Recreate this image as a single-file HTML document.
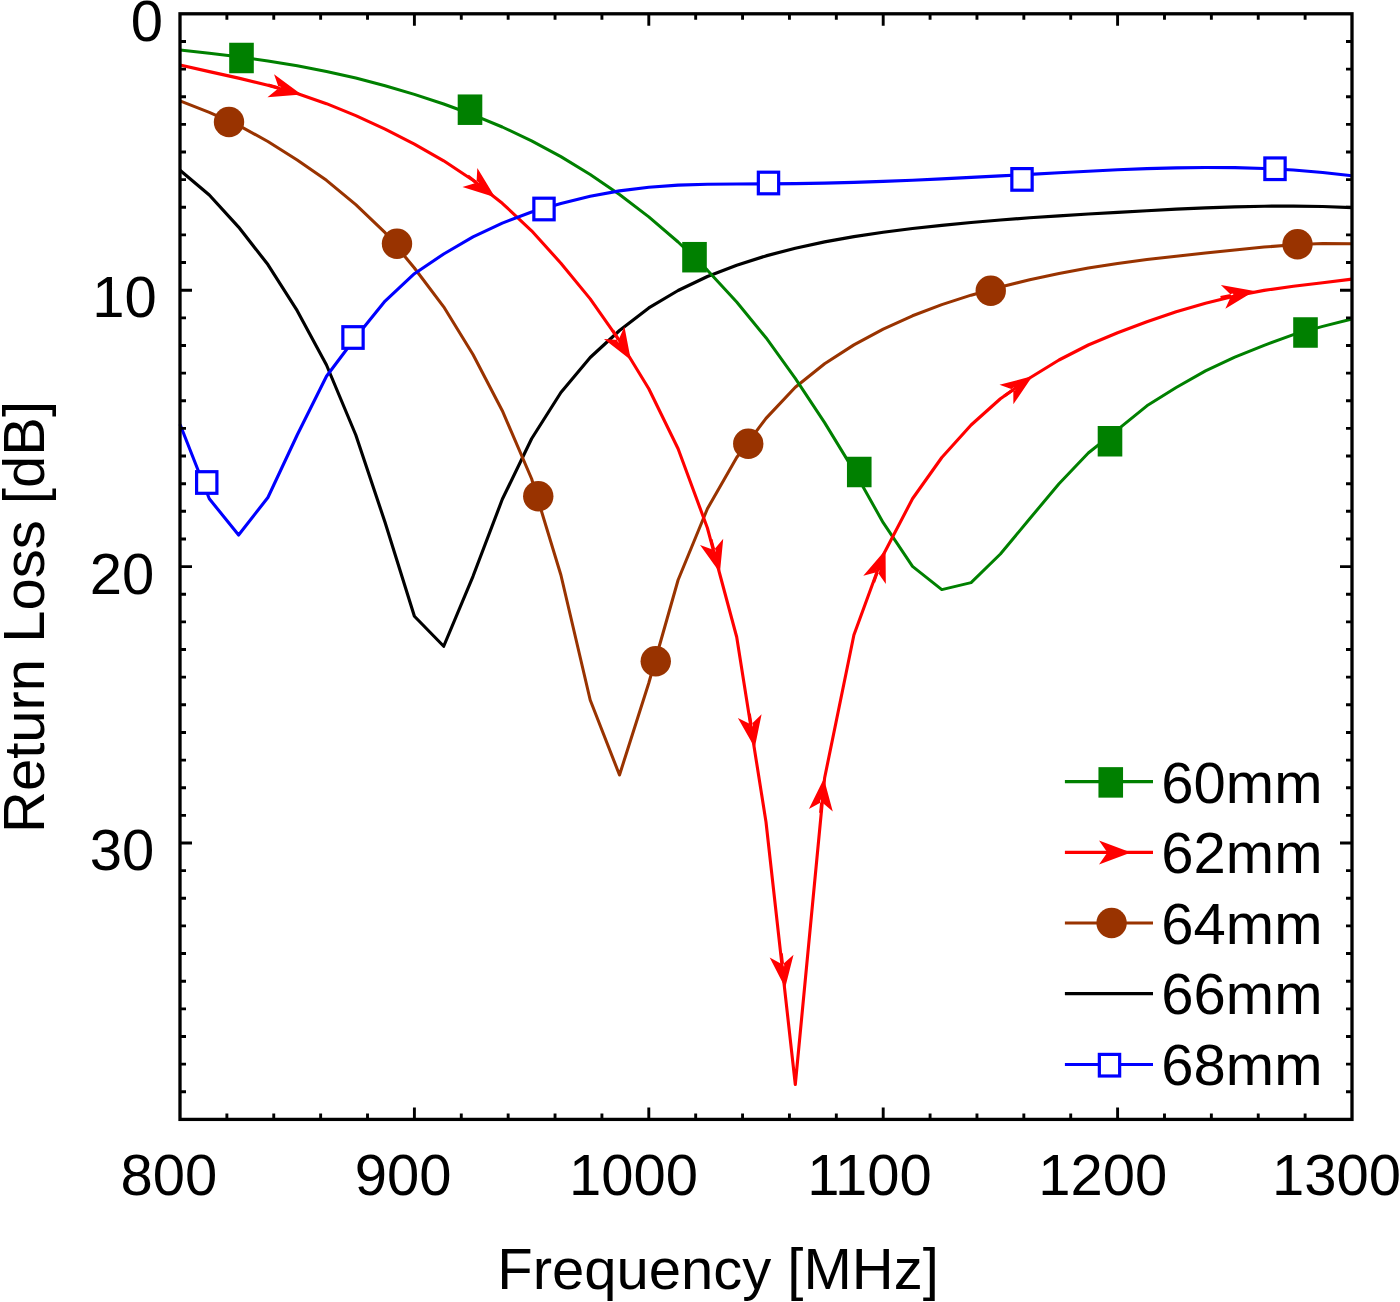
<!DOCTYPE html>
<html lang="en">
<head>
<meta charset="utf-8">
<title>Return Loss vs Frequency</title>
<style>
html,body{margin:0;padding:0;background:#fff;}
body{width:1400px;height:1302px;overflow:hidden;}
svg{display:block;}
text{font-family:"Liberation Sans",sans-serif;font-size:58px;fill:#000;}
</style>
</head>
<body>
<svg width="1400" height="1302" viewBox="0 0 1400 1302">
<rect x="0" y="0" width="1400" height="1302" fill="#fff"/>

<g id="curves">
<polyline points="180.00,170.20 209.30,195.00 238.60,227.07 267.90,264.56 297.20,310.64 326.50,365.00 355.80,435.00 385.10,522.50 414.40,616.25 443.70,646.25 473.00,576.30 502.30,499.30 531.60,438.75 560.90,392.50 590.20,357.50 619.50,330.50 648.80,307.91 678.10,290.49 707.40,276.47 736.70,265.16 766.00,255.89 795.30,248.21 824.60,241.87 853.90,236.64 883.20,232.28 912.50,228.55 941.80,225.31 971.10,222.47 1000.40,219.99 1029.70,217.79 1059.00,215.83 1088.30,214.03 1117.60,212.35 1146.90,210.72 1176.20,209.19 1205.50,207.87 1234.80,206.84 1264.10,206.21 1293.40,206.06 1322.70,206.49 1352.00,207.60" fill="none" stroke="#000000" stroke-width="3.15" stroke-linejoin="round"/>
<polyline points="180.00,100.90 209.30,112.30 238.60,125.40 267.90,141.50 297.20,160.00 326.50,180.30 355.80,204.70 385.10,232.70 414.40,268.00 443.70,306.80 473.00,354.50 502.30,410.70 531.60,478.75 560.90,575.00 590.20,700.00 619.50,775.00 648.80,683.00 678.10,580.00 707.40,508.75 736.70,457.50 766.00,418.40 795.30,387.30 824.60,363.70 853.90,344.90 883.20,329.07 912.50,315.79 941.80,304.63 971.10,295.17 1000.40,286.98 1029.70,279.77 1059.00,273.48 1088.30,268.07 1117.60,263.49 1146.90,259.59 1176.20,256.18 1205.50,253.05 1234.80,250.01 1264.10,247.10 1293.40,244.76 1322.70,243.46 1352.00,243.66" fill="none" stroke="#993300" stroke-width="3.05" stroke-linejoin="round"/>
<polyline points="180.00,50.07 209.30,53.24 238.60,56.82 267.90,60.96 297.20,65.79 326.50,71.45 355.80,78.06 385.10,85.71 414.40,94.38 443.70,104.03 473.00,114.78 502.30,127.00 531.60,140.88 560.90,156.64 590.20,174.43 619.50,194.46 648.80,216.91 678.10,242.00 707.40,270.18 736.70,301.93 766.00,337.70 795.30,378.40 824.60,422.60 853.90,470.60 883.20,522.70 912.50,566.40 941.80,589.60 971.10,582.60 1000.40,554.00 1029.70,518.75 1059.00,483.75 1088.30,453.00 1117.60,429.70 1146.90,405.80 1176.20,387.50 1205.50,370.90 1234.80,357.20 1264.10,345.30 1293.40,334.60 1322.70,326.40 1352.00,319.00" fill="none" stroke="#008000" stroke-width="3.0" stroke-linejoin="round"/>
<polyline points="180.00,65.03 209.30,71.62 238.60,78.12 267.90,85.21 297.20,93.54 326.50,103.66 355.80,115.57 385.10,129.07 414.40,144.03 443.70,160.78 473.00,180.22 502.30,203.26 531.60,230.80 560.90,263.19 590.20,298.88 619.50,340.69 648.80,388.75 678.10,448.75 707.40,528.00 736.70,637.00 766.00,822.00 795.30,1084.50 824.60,778.00 853.90,635.00 883.20,555.00 912.50,498.75 941.80,457.50 971.10,425.00 1000.40,398.75 1029.70,378.00 1059.00,360.00 1088.30,345.00 1117.60,332.70 1146.90,321.79 1176.20,311.83 1205.50,303.15 1234.80,295.94 1264.10,290.39 1293.40,286.27 1322.70,282.80 1352.00,279.16" fill="none" stroke="#ff0000" stroke-width="3.1" stroke-linejoin="round"/>
<polyline points="180.00,424.30 209.30,498.75 238.60,535.00 267.90,497.50 297.20,435.00 326.50,376.25 355.80,337.20 385.10,301.10 414.40,273.70 443.70,254.00 473.00,236.90 502.30,223.10 531.60,212.00 560.90,203.40 590.20,196.25 619.50,190.88 648.80,187.23 678.10,185.13 707.40,184.19 736.70,183.94 766.00,183.89 795.30,183.64 824.60,183.11 853.90,182.34 883.20,181.35 912.50,180.18 941.80,178.86 971.10,177.42 1000.40,175.91 1029.70,174.34 1059.00,172.76 1088.30,171.22 1117.60,169.81 1146.90,168.65 1176.20,167.83 1205.50,167.46 1234.80,167.63 1264.10,168.46 1293.40,170.03 1322.70,172.45 1352.00,175.83" fill="none" stroke="#0000ff" stroke-width="3.1" stroke-linejoin="round"/>
</g>
<g id="markers">
<rect x="229.20" y="42.75" width="24.6" height="30.5" fill="#008000"/>
<rect x="457.70" y="94.45" width="24.6" height="30.5" fill="#008000"/>
<rect x="682.20" y="241.95" width="24.6" height="30.5" fill="#008000"/>
<rect x="846.95" y="456.75" width="24.6" height="30.5" fill="#008000"/>
<rect x="1097.70" y="426.00" width="24.6" height="30.5" fill="#008000"/>
<rect x="1293.20" y="317.25" width="24.6" height="30.5" fill="#008000"/>
<circle cx="229.00" cy="122.00" r="15.2" fill="#993300"/>
<circle cx="397.00" cy="243.75" r="15.2" fill="#993300"/>
<circle cx="538.25" cy="496.25" r="15.2" fill="#993300"/>
<circle cx="655.75" cy="661.25" r="15.2" fill="#993300"/>
<circle cx="748.25" cy="443.75" r="15.2" fill="#993300"/>
<circle cx="990.75" cy="290.70" r="15.2" fill="#993300"/>
<circle cx="1297.50" cy="244.25" r="15.2" fill="#993300"/>
<rect x="196.60" y="471.70" width="20.3" height="21.6" fill="#fff" stroke="#0000ff" stroke-width="3.2"/>
<rect x="342.85" y="326.70" width="20.3" height="21.6" fill="#fff" stroke="#0000ff" stroke-width="3.2"/>
<rect x="533.85" y="198.20" width="20.3" height="21.6" fill="#fff" stroke="#0000ff" stroke-width="3.2"/>
<rect x="758.35" y="172.20" width="20.3" height="21.6" fill="#fff" stroke="#0000ff" stroke-width="3.2"/>
<rect x="1011.85" y="168.60" width="20.3" height="21.6" fill="#fff" stroke="#0000ff" stroke-width="3.2"/>
<rect x="1264.85" y="157.95" width="20.3" height="21.6" fill="#fff" stroke="#0000ff" stroke-width="3.2"/>
<path d="M1.6,0 L-30.4,-12 L-22,0 L-30.4,12 Z M-33,-1.5 H-20 V1.5 H-33 Z" fill="#ff0000" transform="translate(300.00,94.00) rotate(15.9)"/>
<path d="M1.6,0 L-30.4,-12 L-22,0 L-30.4,12 Z M-33,-1.5 H-20 V1.5 H-33 Z" fill="#ff0000" transform="translate(493.80,196.30) rotate(38.2)"/>
<path d="M1.6,0 L-30.4,-12 L-22,0 L-30.4,12 Z M-33,-1.5 H-20 V1.5 H-33 Z" fill="#ff0000" transform="translate(630.00,358.75) rotate(58.6)"/>
<path d="M1.6,0 L-30.4,-12 L-22,0 L-30.4,12 Z M-33,-1.5 H-20 V1.5 H-33 Z" fill="#ff0000" transform="translate(719.50,571.25) rotate(75.0)"/>
<path d="M1.6,0 L-30.4,-12 L-22,0 L-30.4,12 Z M-33,-1.5 H-20 V1.5 H-33 Z" fill="#ff0000" transform="translate(754.50,746.25) rotate(81.0)"/>
<path d="M1.6,0 L-30.4,-12 L-22,0 L-30.4,12 Z M-33,-1.5 H-20 V1.5 H-33 Z" fill="#ff0000" transform="translate(785.00,986.25) rotate(83.6)"/>
<path d="M1.6,0 L-30.4,-12 L-22,0 L-30.4,12 Z M-33,-1.5 H-20 V1.5 H-33 Z" fill="#ff0000" transform="translate(823.75,780.00) rotate(-84.5)"/>
<path d="M1.6,0 L-30.4,-12 L-22,0 L-30.4,12 Z M-33,-1.5 H-20 V1.5 H-33 Z" fill="#ff0000" transform="translate(885.00,551.25) rotate(-69.9)"/>
<path d="M1.6,0 L-30.4,-12 L-22,0 L-30.4,12 Z M-33,-1.5 H-20 V1.5 H-33 Z" fill="#ff0000" transform="translate(1031.25,377.00) rotate(-35.3)"/>
<path d="M1.6,0 L-30.4,-12 L-22,0 L-30.4,12 Z M-33,-1.5 H-20 V1.5 H-33 Z" fill="#ff0000" transform="translate(1253.00,291.25) rotate(-10.7)"/>
</g>
<g id="axes" stroke="#000" fill="none">
<rect x="180.0" y="13.8" width="1172.0" height="1105.6000000000001" stroke-width="3.3"/>
<path d="M226.88,13.8 v6 M226.88,1119.4 v-6 M273.76,13.8 v6 M273.76,1119.4 v-6 M320.64,13.8 v6 M320.64,1119.4 v-6 M367.52,13.8 v6 M367.52,1119.4 v-6 M414.40,13.8 v12 M414.40,1119.4 v-12 M461.28,13.8 v6 M461.28,1119.4 v-6 M508.16,13.8 v6 M508.16,1119.4 v-6 M555.04,13.8 v6 M555.04,1119.4 v-6 M601.92,13.8 v6 M601.92,1119.4 v-6 M648.80,13.8 v12 M648.80,1119.4 v-12 M695.68,13.8 v6 M695.68,1119.4 v-6 M742.56,13.8 v6 M742.56,1119.4 v-6 M789.44,13.8 v6 M789.44,1119.4 v-6 M836.32,13.8 v6 M836.32,1119.4 v-6 M883.20,13.8 v12 M883.20,1119.4 v-12 M930.08,13.8 v6 M930.08,1119.4 v-6 M976.96,13.8 v6 M976.96,1119.4 v-6 M1023.84,13.8 v6 M1023.84,1119.4 v-6 M1070.72,13.8 v6 M1070.72,1119.4 v-6 M1117.60,13.8 v12 M1117.60,1119.4 v-12 M1164.48,13.8 v6 M1164.48,1119.4 v-6 M1211.36,13.8 v6 M1211.36,1119.4 v-6 M1258.24,13.8 v6 M1258.24,1119.4 v-6 M1305.12,13.8 v6 M1305.12,1119.4 v-6 M180.0,41.44 h6 M1352.0,41.44 h-6 M180.0,69.08 h6 M1352.0,69.08 h-6 M180.0,96.72 h6 M1352.0,96.72 h-6 M180.0,124.36 h6 M1352.0,124.36 h-6 M180.0,152.00 h6 M1352.0,152.00 h-6 M180.0,179.64 h6 M1352.0,179.64 h-6 M180.0,207.28 h6 M1352.0,207.28 h-6 M180.0,234.92 h6 M1352.0,234.92 h-6 M180.0,262.56 h6 M1352.0,262.56 h-6 M180.0,290.20 h12 M1352.0,290.20 h-12 M180.0,317.84 h6 M1352.0,317.84 h-6 M180.0,345.48 h6 M1352.0,345.48 h-6 M180.0,373.12 h6 M1352.0,373.12 h-6 M180.0,400.76 h6 M1352.0,400.76 h-6 M180.0,428.40 h6 M1352.0,428.40 h-6 M180.0,456.04 h6 M1352.0,456.04 h-6 M180.0,483.68 h6 M1352.0,483.68 h-6 M180.0,511.32 h6 M1352.0,511.32 h-6 M180.0,538.96 h6 M1352.0,538.96 h-6 M180.0,566.60 h12 M1352.0,566.60 h-12 M180.0,594.24 h6 M1352.0,594.24 h-6 M180.0,621.88 h6 M1352.0,621.88 h-6 M180.0,649.52 h6 M1352.0,649.52 h-6 M180.0,677.16 h6 M1352.0,677.16 h-6 M180.0,704.80 h6 M1352.0,704.80 h-6 M180.0,732.44 h6 M1352.0,732.44 h-6 M180.0,760.08 h6 M1352.0,760.08 h-6 M180.0,787.72 h6 M1352.0,787.72 h-6 M180.0,815.36 h6 M1352.0,815.36 h-6 M180.0,843.00 h12 M1352.0,843.00 h-12 M180.0,870.64 h6 M1352.0,870.64 h-6 M180.0,898.28 h6 M1352.0,898.28 h-6 M180.0,925.92 h6 M1352.0,925.92 h-6 M180.0,953.56 h6 M1352.0,953.56 h-6 M180.0,981.20 h6 M1352.0,981.20 h-6 M180.0,1008.84 h6 M1352.0,1008.84 h-6 M180.0,1036.48 h6 M1352.0,1036.48 h-6 M180.0,1064.12 h6 M1352.0,1064.12 h-6 M180.0,1091.76 h6 M1352.0,1091.76 h-6" stroke-width="2.9"/>
</g>
<g id="ticklabels">
<text x="169.00" y="1194.5" text-anchor="middle">800</text>
<text x="403.20" y="1194.5" text-anchor="middle">900</text>
<text x="633.60" y="1194.5" text-anchor="middle">1000</text>
<text x="869.50" y="1194.5" text-anchor="middle">1100</text>
<text x="1102.70" y="1194.5" text-anchor="middle">1200</text>
<text x="1336.60" y="1194.5" text-anchor="middle">1300</text>
<text x="147" y="40.5" text-anchor="middle">0</text>
<text x="124.5" y="317" text-anchor="middle">10</text>
<text x="122" y="593.5" text-anchor="middle">20</text>
<text x="122" y="870" text-anchor="middle">30</text>
</g>
<text x="718" y="1288.5" text-anchor="middle">Frequency [MHz]</text>
<text transform="translate(43.6,617) rotate(-90)" text-anchor="middle">Return Loss [dB]</text>
<g id="legend">
<line x1="1064.9" y1="781.6" x2="1153" y2="781.6" stroke="#008000" stroke-width="3.1"/>
<text x="1161.3" y="802.8">60mm</text>
<line x1="1064.9" y1="852.4" x2="1153" y2="852.4" stroke="#ff0000" stroke-width="3.2"/>
<text x="1161.3" y="873.3">62mm</text>
<line x1="1064.9" y1="923" x2="1153" y2="923" stroke="#993300" stroke-width="3.1"/>
<text x="1161.3" y="944.3">64mm</text>
<line x1="1064.9" y1="993.6" x2="1153" y2="993.6" stroke="#000000" stroke-width="3.2"/>
<text x="1161.3" y="1014.1">66mm</text>
<line x1="1064.9" y1="1064.5" x2="1153" y2="1064.5" stroke="#0000ff" stroke-width="3.2"/>
<text x="1161.3" y="1085.1">68mm</text>
<rect x="1098.45" y="767.15" width="24.6" height="30.5" fill="#008000"/>
<path d="M1.6,0 L-30.4,-12 L-22,0 L-30.4,12 Z M-33,-1.5 H-20 V1.5 H-33 Z" fill="#ff0000" transform="translate(1129.40,852.40) rotate(0.0)"/>
<circle cx="1111.60" cy="923.00" r="15.2" fill="#993300"/>
<rect x="1099.35" y="1054.40" width="20.3" height="21.6" fill="#fff" stroke="#0000ff" stroke-width="3.2"/>
</g>
</svg>
</body>
</html>
